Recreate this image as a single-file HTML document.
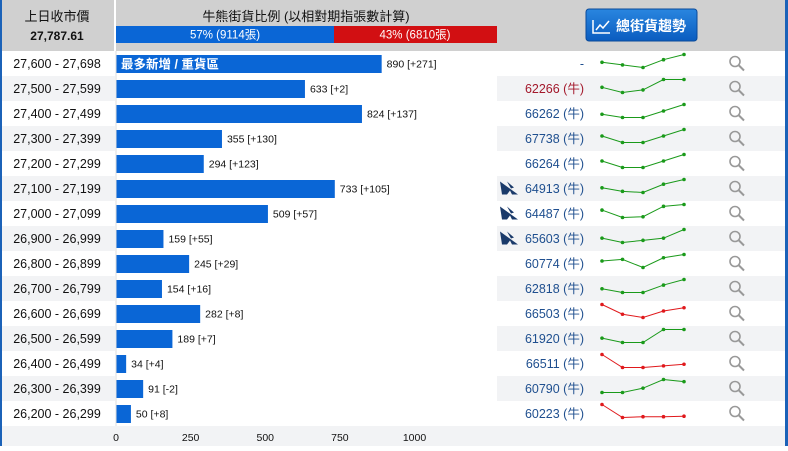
<!DOCTYPE html>
<html><head><meta charset="utf-8">
<style>
body{margin:0;width:788px;height:446px;overflow:hidden;background:#fff;font-family:"Liberation Sans","Noto Sans CJK TC",sans-serif;}
svg text{font-family:"Liberation Sans","Noto Sans CJK TC",sans-serif;}
</style></head>
<body>
<svg id="c" width="788" height="446" xmlns="http://www.w3.org/2000/svg">
<defs>
<linearGradient id="btn" x1="0" y1="0" x2="0" y2="1"><stop offset="0" stop-color="#2a86e0"/><stop offset="1" stop-color="#0a5cc0"/></linearGradient>
</defs>
<rect x="0" y="0" width="788" height="51" fill="#d0d0d0"/>
<rect x="114" y="0" width="2" height="51" fill="#fff"/>
<text x="57" y="21" font-size="13" text-anchor="middle" fill="#111">上日收市價</text>
<text x="57" y="40" font-size="12" font-weight="bold" text-anchor="middle" fill="#111">27,787.61</text>
<text x="306" y="21" font-size="13" text-anchor="middle" fill="#111">牛熊街貨比例 (以相對期指張數計算)</text>
<rect x="116" y="26" width="218" height="17" fill="#0a66d6"/>
<rect x="334" y="26" width="163" height="17" fill="#d20f12"/>
<text x="225" y="38.5" font-size="11.5" text-anchor="middle" fill="#fff">57% (9114張)</text>
<text x="415" y="38.5" font-size="11.5" text-anchor="middle" fill="#fff">43% (6810張)</text>
<g>
<rect x="586" y="9" width="111" height="32" rx="3" fill="url(#btn)" stroke="#0a4a9a"/>
<polyline points="593,20 593,33 610,33" fill="none" stroke="#fff" stroke-width="1.5"/>
<polyline points="596,30 600,25 603,28 609,21" fill="none" stroke="#fff" stroke-width="1.5"/>
<text x="651" y="31" font-size="14" font-weight="bold" text-anchor="middle" fill="#fff">總街貨趨勢</text>
</g>
<g id="rows"></g>
<rect x="0" y="426" width="788" height="20" fill="#f2f3f5"/>
<g id="axis"></g>
<rect x="0" y="0" width="2" height="446" fill="#1b62b8"/>
<rect x="785" y="0" width="3" height="446" fill="#1b62b8"/>
</svg>
<script>
const ranges=["27,600 - 27,698","27,500 - 27,599","27,400 - 27,499","27,300 - 27,399","27,200 - 27,299","27,100 - 27,199","27,000 - 27,099","26,900 - 26,999","26,800 - 26,899","26,700 - 26,799","26,600 - 26,699","26,500 - 26,599","26,400 - 26,499","26,300 - 26,399","26,200 - 26,299"];
const values=[890,633,824,355,294,733,509,159,245,154,282,189,34,91,50];
const changes=["+271","+2","+137","+130","+123","+105","+57","+55","+29","+16","+8","+7","+4","-2","+8"];
const codes=["-","62266 (牛)","66262 (牛)","67738 (牛)","66264 (牛)","64913 (牛)","64487 (牛)","65603 (牛)","60774 (牛)","62818 (牛)","66503 (牛)","61920 (牛)","66511 (牛)","60790 (牛)","60223 (牛)"];
const hasIcon=[0,0,0,0,0,1,1,1,0,0,0,0,0,0,0];
const trendUp=[1,1,1,1,1,1,1,1,1,1,0,1,0,1,0];
const trends=[[3,2,1,4,6],[2,0,1,5,5],[2,1,1,3,5],[3,1,1,3,5],[3,1,1,3,5],[2.5,1,0.5,4,6],[2,0,0.2,3,3.5],[2,1,1.5,2,4],[2,2.5,0,3,4],[2,1,1,3,4.5],[4,1,0,2,3],[2,1,1,4,4],[5,1,1,1.5,2],[1,1,2,4,3.5],[5,0,0.3,0.3,0.5]];
const ticks=[0,250,500,750,1000];
const NS="http://www.w3.org/2000/svg";
const X0=116,SC=0.2985,TOP=51,RH=25;
const xs=v=>X0+v*SC;
function mk(t,a,p){const e=document.createElementNS(NS,t);for(const k in a)e.setAttribute(k,a[k]);p.appendChild(e);return e;}
const rows=document.getElementById('rows');
ranges.forEach((r,i)=>{
  const y=TOP+i*RH,c=y+RH/2;
  const g=mk('g',{},rows);
  
  
  if(i%2===1){
    const b1=mk('rect',{x:0,y:y,width:115,height:RH,fill:'#f2f3f5'},g);
    
    
    const b2=mk('rect',{x:497,y:y,width:290,height:RH,fill:'#f2f3f5'},g);
    
    
  }
  const t=mk('text',{x:57,y:c+4.5,'font-size':12.5,'text-anchor':'middle',fill:'#111'},g);t.textContent=r;
  
  
  const bar=mk('rect',{x:X0,y:y+4,width:xs(values[i])-X0,height:18,fill:'#0a66d6'},g);
  
  
  const vl=mk('text',{x:xs(values[i])+5,y:c+4,'font-size':10.5,fill:'#111'},g);vl.textContent=values[i]+' ['+changes[i]+']';
  
  
  if(i===0){const lb=mk('text',{x:X0+5,y:c+5,'font-size':12.5,'font-weight':'bold',fill:'#fff'},g);lb.textContent='最多新增 / 重貨區';
    
    }
  const cd=mk('text',{x:584,y:c+4.5,'font-size':12.5,'text-anchor':'end',fill:i===1?'#a3182b':'#1f4f8f'},g);cd.textContent=codes[i];
  
  
  if(hasIcon[i]){const ic=mk('path',{d:`M500,${c-7} L518,${c+6} L512,${c+6} L510,${c+2} L507,${c+6} L502,${c+6} Z M507,${c-7} L514,${c-1} L511,${c} Z`,fill:'#1a3a6a'},g);
    
    }
  const tv=trends[i],mn=Math.min(...tv),mx=Math.max(...tv),col=trendUp[i]?'#1a9a1a':'#e0191c';
  const py=v=>c+4-(mx===mn?0.5:(v-mn)/(mx-mn))*13;
  const px=k=>602+k*20.5;
  const pl=mk('polyline',{points:tv.map((v,k)=>px(k)+','+py(v)).join(' '),fill:'none',stroke:col,'stroke-width':1},g);
  
  
  tv.forEach((v,k)=>{const d=mk('circle',{cx:px(k),cy:py(v),r:1.8,fill:col},g);
    
    });
  const mg=mk('g',{stroke:'#999',fill:'none','stroke-width':1.6},g);
  
  
  mk('circle',{cx:735,cy:c-2,r:5},mg);
  mk('line',{x1:739,y1:c+2,x2:744,y2:c+7,'stroke-width':2},mg);
});
mk('line',{x1:X0,y1:TOP,x2:X0,y2:426,stroke:'#ddd'},rows);
const ax=document.getElementById('axis');
ticks.forEach(v=>{const t=mk('text',{x:xs(v),y:441,'font-size':10.5,'text-anchor':'middle',fill:'#111'},ax);t.textContent=v;
  
  });
</script>
</body></html>
